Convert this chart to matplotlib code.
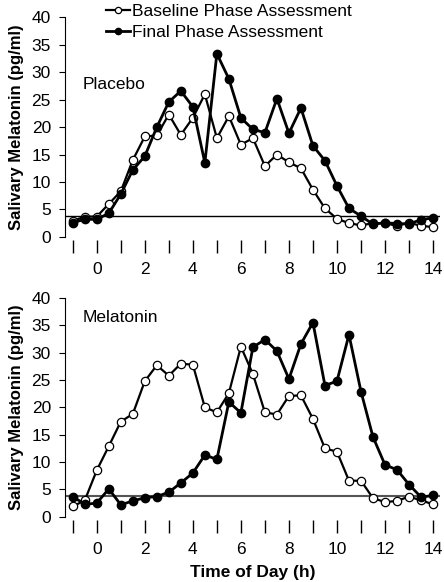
import matplotlib
matplotlib.use("Agg")
import matplotlib.pyplot as plt
import numpy as np

plt.rcParams['font.family'] = ['Liberation Sans', 'DejaVu Sans']

# time of day (h), samples every half hour
hours = np.arange(-1, 14.01, 0.5)

# Placebo group
placebo_baseline = [2.9, 3.7, 3.7, 6.0, 8.3, 14.0, 18.3, 18.5, 22.3, 18.6, 21.7, 26.0,
                    18.0, 22.0, 16.8, 18.0, 12.9, 15.0, 13.6, 12.5, 8.6, 5.2, 3.3, 2.5,
                    2.1, 2.5, 2.5, 2.0, 2.6, 2.0, 1.8]
placebo_final = [2.6, 3.2, 3.2, 4.3, 7.8, 12.2, 14.7, 20.0, 24.6, 26.6, 23.7, 13.5,
                 33.4, 28.8, 21.7, 19.6, 19.0, 25.2, 18.9, 23.5, 16.6, 13.9, 9.3, 5.2,
                 3.8, 2.3, 2.6, 2.4, 2.4, 3.1, 3.5]

# Melatonin group
melatonin_baseline = [1.9, 3.0, 8.5, 12.9, 17.4, 18.8, 24.8, 27.7, 25.8, 28.0, 27.8, 20.0,
                      19.1, 22.6, 31.1, 26.1, 19.1, 18.7, 22.1, 22.2, 17.9, 12.5, 11.9, 6.6,
                      6.6, 3.4, 2.7, 2.9, 3.7, 3.0, 2.3]
melatonin_final = [3.7, 2.3, 2.5, 5.1, 2.2, 2.9, 3.5, 3.7, 4.5, 6.2, 8.0, 11.3,
                   10.5, 21.0, 19.0, 31.0, 32.4, 30.3, 25.2, 31.6, 35.5, 24.0, 24.8, 33.3,
                   22.9, 14.6, 9.5, 8.6, 5.9, 3.6, 3.9]

threshold = 3.8
xticks = np.arange(-1, 15, 1)
xticklabels = [str(t) if t % 2 == 0 else '' for t in xticks]
yticks = np.arange(0, 41, 5)

fig = plt.figure(figsize=(4.44, 5.82), dpi=100)
ax1 = fig.add_axes([0.146, 0.593, 0.845, 0.377])
ax2 = fig.add_axes([0.146, 0.112, 0.845, 0.376])

panels = [(ax1, placebo_baseline, placebo_final, 'Placebo', 27.7, 'black', 1.0),
          (ax2, melatonin_baseline, melatonin_final, 'Melatonin', 36.5, '#555555', 1.5)]

for ax, base, final, name, name_y, thr_color, thr_lw in panels:
    ax.axhline(threshold, color=thr_color, lw=thr_lw, zorder=1)
    ax.plot(hours, base, '-o', color='black', lw=1.6, ms=6,
            mfc='white', mec='black', mew=0.9, zorder=2,
            label='Baseline Phase Assessment')
    ax.plot(hours, final, '-o', color='black', lw=2.0, ms=6,
            mfc='black', mec='black', zorder=3,
            label='Final Phase Assessment')
    ax.set_xlim(-1.33, 14.29)
    ax.set_ylim(0, 40)
    ax.set_xticks(xticks)
    ax.set_xticklabels(xticklabels)
    ax.set_yticks(yticks)
    for s in ['top', 'right']:
        ax.spines[s].set_visible(False)
    ax.spines['bottom'].set_position(('outward', 2))
    ax.spines['bottom'].set_visible(False)
    ax.spines['left'].set_linewidth(0.8)
    ax.tick_params(axis='x', direction='out', length=9, width=1.0, pad=7, labelsize=12.5)
    ax.tick_params(axis='y', direction='out', length=4, width=0.8, pad=6, labelsize=12.5)
    ax.set_ylabel('Salivary Melatonin (pg/ml)', fontsize=12, fontweight='bold', labelpad=5)
    ax.text(-0.58, name_y, name, fontsize=12.5, va='center', ha='left')

ax2.set_xlabel('Time of Day (h)', fontsize=12.5, fontweight='bold', labelpad=6)

ax1.legend(loc='upper left', bbox_to_anchor=(0.09, 1.095), frameon=False,
           fontsize=12.5, handlelength=1.4, handletextpad=0.1, labelspacing=0.35,
           borderaxespad=0, markerscale=0.75)

fig.savefig('out.png', dpi=100)
